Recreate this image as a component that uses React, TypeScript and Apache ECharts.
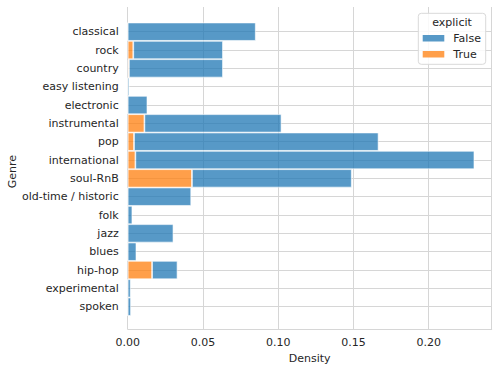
import React, { useEffect, useRef } from "react";
import * as echarts from "echarts";

const genres = [
  "classical",
  "rock",
  "country",
  "easy listening",
  "electronic",
  "instrumental",
  "pop",
  "international",
  "soul-RnB",
  "old-time / historic",
  "folk",
  "jazz",
  "blues",
  "hip-hop",
  "experimental",
  "spoken",
];
// density of explicit == True (drawn first, at the base of the stack)
const trueDensity = [0, 0.0037, 0.0008, 0, 0, 0.0111, 0.0042, 0.0051, 0.0427, 0, 0, 0, 0, 0.0162, 0, 0];
// density of explicit == False (stacked on top)
const falseDensity = [
  0.0851, 0.0596, 0.0625, 0.0011, 0.0131, 0.0911, 0.1625, 0.2253, 0.1062, 0.0422, 0.0031, 0.0304, 0.0058,
  0.0169, 0.002, 0.0022,
];
const xTicks = [0, 0.05, 0.1, 0.15, 0.2];
const legendLabels = ["False", "True"];

const X_MAX = 0.2419;
const TEXT = "#262626";
const GRID = "#d6d6d6";
const FONT = "DejaVu Sans";
const BLUE = "#1f77b4";
const ORANGE = "#ff7f0e";

export default function App() {
  const ref = useRef<HTMLDivElement>(null);
  useEffect(() => {
    if (!ref.current) return;
    const chart = echarts.init(ref.current, null, { renderer: "svg" });
    const left = 127.7;
    const right = 499 - 491.7;
    chart.setOption({
      animation: false,
      textStyle: { fontFamily: FONT, color: TEXT },
      grid: [
        { left, right, top: 7, bottom: 371 - 329, containLabel: false },
        { left, right, top: 31.7, bottom: 371 - 306.7, containLabel: false },
      ],
      xAxis: [
        {
          type: "value",
          gridIndex: 0,
          min: 0,
          max: X_MAX,
          interval: 0.05,
          axisLine: { show: true, lineStyle: { color: GRID, width: 1 } },
          axisTick: { show: false },
          axisLabel: {
            fontSize: 11,
            fontFamily: FONT,
            color: TEXT,
            margin: 8,
            showMaxLabel: false,
            formatter: (v: number) => (xTicks.some((t) => Math.abs(t - v) < 1e-9) ? v.toFixed(2) : ""),
          },
          splitLine: { show: true, lineStyle: { color: GRID, width: 1 } },
          name: "Density",
          nameLocation: "middle",
          nameGap: 22,
          nameTextStyle: { fontSize: 11, fontFamily: FONT, color: TEXT },
        },
        {
          type: "value",
          gridIndex: 1,
          min: 0,
          max: X_MAX,
          show: false,
          splitLine: { show: false },
        },
      ],
      yAxis: [
        {
          type: "value",
          gridIndex: 0,
          show: false,
          splitLine: { show: false },
        },
        {
          type: "category",
          gridIndex: 1,
          inverse: true,
          boundaryGap: false,
          data: genres,
          axisLine: { show: false },
          axisTick: { show: false },
          axisLabel: { fontSize: 11, fontFamily: FONT, color: TEXT, margin: 9, interval: 0 },
          splitLine: { show: true, interval: 0, lineStyle: { color: GRID, width: 1 } },
        },
      ],
      series: [
        {
          name: "True",
          type: "bar",
          xAxisIndex: 1,
          yAxisIndex: 1,
          stack: "explicit",
          data: trueDensity,
          barWidth: 18.33,
          clip: false,
          itemStyle: { color: ORANGE, opacity: 0.75, borderColor: "#ffffff", borderWidth: 0.8 },
        },
        {
          name: "False",
          type: "bar",
          xAxisIndex: 1,
          yAxisIndex: 1,
          stack: "explicit",
          data: falseDensity,
          barWidth: 18.33,
          clip: false,
          itemStyle: { color: BLUE, opacity: 0.75, borderColor: "#ffffff", borderWidth: 0.8 },
        },
      ],
      graphic: [
        {
          type: "text",
          x: 12,
          y: 171.7,
          rotation: Math.PI / 2,
          style: {
            text: "Genre",
            fontSize: 11,
            fontFamily: FONT,
            fill: TEXT,
            align: "center",
            verticalAlign: "middle",
          },
        },
        {
          type: "rect",
          shape: { x: 418.3, y: 13.3, width: 67.4, height: 51, r: 3 },
          style: { fill: "rgba(255,255,255,0.85)", stroke: "#d9d9d9", lineWidth: 1 },
          z: 100,
        },
        {
          type: "text",
          x: 452,
          y: 22.3,
          z: 101,
          style: {
            text: "explicit",
            fontSize: 11,
            fontFamily: FONT,
            fill: TEXT,
            align: "center",
            verticalAlign: "middle",
          },
        },
        {
          type: "rect",
          shape: { x: 422.7, y: 35, width: 21.6, height: 6.5 },
          style: { fill: "#5799c7" },
          z: 101,
        },
        {
          type: "text",
          x: 453.3,
          y: 38.3,
          z: 101,
          style: {
            text: legendLabels[0],
            fontSize: 11,
            fontFamily: FONT,
            fill: TEXT,
            align: "left",
            verticalAlign: "middle",
          },
        },
        {
          type: "rect",
          shape: { x: 422.7, y: 51, width: 21.6, height: 6.5 },
          style: { fill: "#ff9f4a" },
          z: 101,
        },
        {
          type: "text",
          x: 453.3,
          y: 54.3,
          z: 101,
          style: {
            text: legendLabels[1],
            fontSize: 11,
            fontFamily: FONT,
            fill: TEXT,
            align: "left",
            verticalAlign: "middle",
          },
        },
      ],
    });
    return () => chart.dispose();
  }, []);
  return <div ref={ref} style={{ width: 499, height: 371, position: "absolute", left: 0, top: 0 }} />;
}
